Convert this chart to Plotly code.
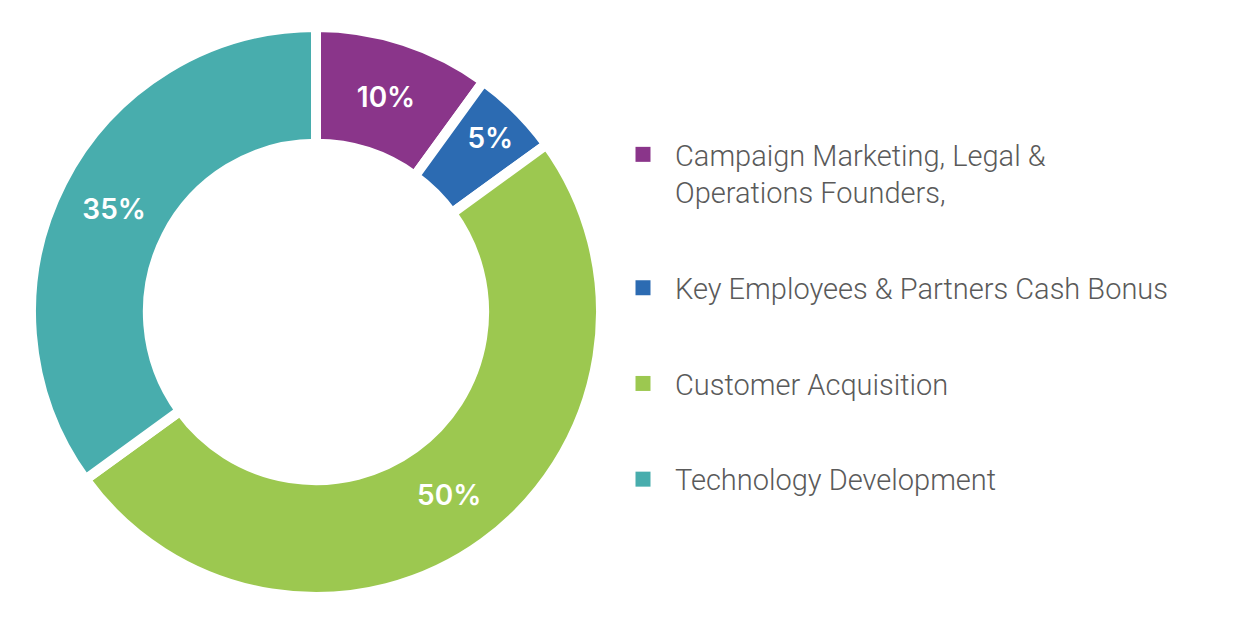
import plotly.graph_objects as go

labels = [
    "Campaign Marketing, Legal &<br>Operations Founders,",
    "Key Employees & Partners Cash Bonus",
    "Customer Acquisition",
    "Technology Development",
]
values = [10, 5, 50, 35]
colors = ["#8A358A", "#2C6BB2", "#9CC850", "#48ADAD"]

W, H = 1240, 618

fig = go.Figure()

fig.add_trace(go.Pie(
    labels=labels,
    values=values,
    sort=False,
    direction="clockwise",
    rotation=0,
    hole=0.59,
    marker=dict(colors=colors, line=dict(color="white", width=10)),
    textinfo="percent",
    texttemplate="%{percent:.0%}",
    textposition="inside",
    insidetextorientation="horizontal",
    textfont=dict(family="Inter", size=28, color="white", weight=600),
    domain=dict(x=[31 / W, 601 / W], y=[(H - 597) / H, (H - 27) / H]),
    showlegend=False,
    hoverinfo="label+percent",
))

# legend entries (one group per slice so that spacing can be controlled)
for lab, col in zip(labels, colors):
    fig.add_trace(go.Scatter(
        x=[None], y=[None], mode="markers",
        marker=dict(symbol="square", size=15, color=col),
        name=lab, legendgroup=lab, showlegend=True,
    ))

fig.update_layout(
    width=W, height=H,
    margin=dict(l=0, r=0, t=0, b=0),
    paper_bgcolor="white",
    plot_bgcolor="white",
    xaxis=dict(visible=False),
    yaxis=dict(visible=False),
    legend=dict(
        x=611 / W, xanchor="left",
        y=1 - 129 / H, yanchor="top",
        font=dict(family="Roboto", size=29, color="#5a5a5a", weight=300),
        itemwidth=54,
        tracegroupgap=55,
        valign="top",
        bgcolor="rgba(0,0,0,0)",
        itemclick=False, itemdoubleclick=False,
    ),
)

fig.write_html("out.html")
